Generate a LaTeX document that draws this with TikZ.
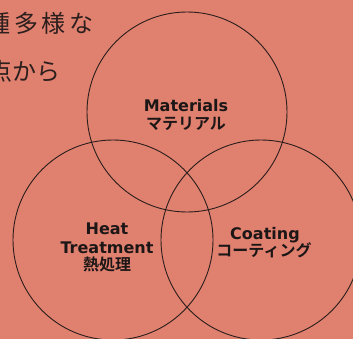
\documentclass[tikz,border=0pt]{standalone}
\usepackage{fontspec}
\setmainfont{DejaVu Sans}
\newfontfamily\jpsans{Noto Sans CJK JP}
\newfontfamily\jpbold{Noto Sans CJK JP}[BoldFont=* Bold]
\definecolor{bgsalmon}{HTML}{E0806F}
\definecolor{inkline}{HTML}{2A1E1C}
\definecolor{inktext}{HTML}{1C1716}
\tikzset{
  ring/.style={draw=inkline, line width=0.9pt},
  lab/.style={anchor=base, inner sep=0pt, text=inktext, font=\fontsize{16}{18}\selectfont\bfseries},
  labjp/.style={anchor=base, inner sep=0pt, text=inktext, font=\fontsize{16}{18}\selectfont\jpbold\bfseries},
  body/.style={anchor=base west, inner sep=0pt, text=inktext!92!bgsalmon, font=\fontsize{24}{28}\selectfont\jpsans}
}
\begin{document}
\begin{tikzpicture}[x=1pt,y=-1pt]
\useasboundingbox (0,0) rectangle (353,338);
\clip (0,0) rectangle (353,338);
\fill[bgsalmon] (-5,-5) rectangle (358,343);
\node[body] (t1) at (-14,32) {\addfontfeature{LetterSpace=16}種多様な};
\node[body] (t2) at (-12,80) {点から};
\draw[ring] (187,112) circle (100);
\draw[ring] (113,240) circle (100);
\draw[ring] (261,240) circle (100);
\node[lab] (mat) at (186,111) {Materials};
\node[labjp] (matjp) at (186,129) {マテリアル};
\node[lab] (heat) at (107,234) {Heat};
\node[lab] (treat) at (107,253) {Treatment};
\node[labjp] (heatjp) at (107,270) {熱処理};
\node[lab] (coat) at (265,239) {Coating};
\node[labjp] (coatjp) at (264,256.5) {コーティング};
\end{tikzpicture}
\end{document}
